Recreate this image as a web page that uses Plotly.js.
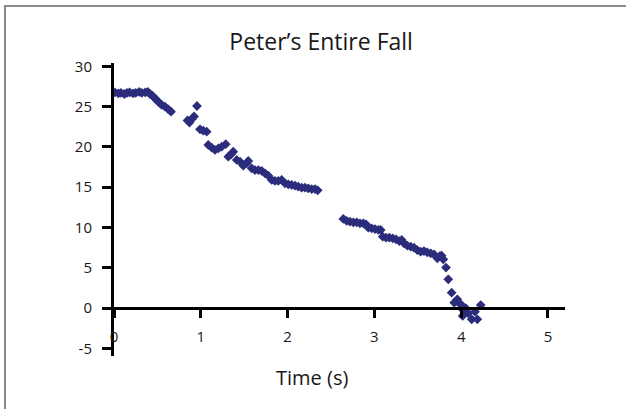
<!DOCTYPE html>
<html>
<head>
<meta charset="utf-8">
<script src="https://cdn.plot.ly/plotly-3.0.1.min.js"></script>
<style>
  html, body { margin: 0; padding: 0; background: #fff; }
  #wrap { position: relative; width: 626px; height: 409px; }
  #chart { width: 626px; height: 409px; }
  #frame { position: absolute; left: 4px; top: 5px; right: 0; bottom: 0;
           border-left: 2px solid #8a8a8a; border-top: 2px solid #8a8a8a;
           pointer-events: none; }
</style>
</head>
<body>
<div id="wrap">
  <div id="chart"></div>
  <div id="frame"></div>
</div>
<script>
// Time (s)
const time = [0.01,0.05,0.08,0.12,0.15,0.18,0.22,0.25,0.29,0.32,0.36,0.39,
  0.415,0.446,0.472,0.495,0.522,0.55,0.588,0.626,0.657,
  0.847,0.870,0.899,0.922,0.956,
  0.991,1.029,1.068,
  1.086,1.126,1.164,1.203,1.241,1.287,
  1.317,1.348,1.374,
  1.414,1.452,1.490,1.529,1.547,
  1.586,1.624,1.663,1.702,1.740,1.778,
  1.817,1.855,1.893,1.932,1.970,2.008,2.047,2.085,2.123,2.162,2.200,2.238,2.278,2.316,2.347,
  2.642,2.681,2.719,2.757,2.796,2.834,2.872,2.903,
  2.930,2.969,3.007,3.045,3.073,
  3.096,3.134,3.172,3.211,3.249,3.287,3.315,
  3.341,3.379,3.418,3.456,3.494,3.533,3.571,3.609,3.649,3.687,
  3.725,3.756,3.775,3.794,3.825,3.851,3.890,3.920,3.955,3.978,4.006,4.017,4.024,4.055,4.082,4.121,4.159,4.186,4.225];

// Height
const height = [26.77,26.65,26.71,26.58,26.71,26.77,26.65,26.71,26.83,26.71,26.77,26.83,
  26.58,26.34,26.05,25.78,25.50,25.22,25.01,24.68,24.38,
  23.29,23.04,23.48,23.79,25.09,
  22.20,22.02,21.90,
  20.25,19.91,19.63,19.84,20.04,20.34,
  18.80,19.09,19.42,
  18.39,18.17,17.68,17.98,18.26,
  17.35,17.14,17.14,17.02,16.73,16.43,
  15.90,15.78,15.78,15.90,15.49,15.37,15.28,15.19,15.07,14.94,14.94,14.87,14.78,14.78,14.62,
  11.06,10.81,10.72,10.65,10.65,10.52,10.52,10.40,
  9.98,9.90,9.81,9.69,9.69,
  8.86,8.73,8.73,8.66,8.53,8.32,8.45,
  8.04,7.74,7.61,7.49,7.20,6.99,7.08,6.92,6.80,6.67,
  6.17,6.46,6.50,6.05,5.03,3.56,1.90,0.66,1.08,0.58,0.37,-0.99,-0.25,-0.04,-0.66,-1.40,-0.46,-1.40,0.37];

const xTicks = [0, 1, 2, 3, 4, 5];
const yTicks = [-5, 0, 5, 10, 15, 20, 25, 30];
const titleText = "Peter\u2019s Entire Fall";
const xTitle = "Time (s)";

const yMin = -5.96, yMax = 30.43;
const xRange = [0, 5.196];

const FONT = "'Open Sans', 'Noto Sans', sans-serif";
const TXT = "#1a1718";

const trace = {
  x: time, y: height, type: "scatter", mode: "markers",
  marker: { symbol: "diamond", size: 7.5, color: "#2b2d7c", line: { width: 0 } },
  hoverinfo: "skip"
};

const layout = {
  width: 626, height: 409,
  margin: { l: 114, r: 61, t: 63, b: 53, pad: 0 },
  paper_bgcolor: "#ffffff", plot_bgcolor: "#ffffff",
  showlegend: false,
  font: { family: FONT, color: TXT },
  title: { text: titleText, font: { family: FONT, size: 23, color: TXT },
           x: 0.513, xanchor: "center", y: 0.898, yanchor: "middle" },
  xaxis: {
    range: xRange, anchor: "free",
    position: (0 - yMin) / (yMax - yMin),
    showline: true, linecolor: "#000", linewidth: 3,
    ticks: "outside", ticklen: 8, tickwidth: 3, tickcolor: "#000",
    tickvals: xTicks, ticktext: xTicks.map(String),
    tickfont: { family: FONT, size: 15, color: TXT },
    ticklabelstandoff: 6,
    showgrid: false, zeroline: false, automargin: false
  },
  yaxis: {
    range: [yMin, yMax],
    showline: true, linecolor: "#000", linewidth: 3,
    ticks: "outside", ticklen: 9, tickwidth: 3, tickcolor: "#000",
    tickvals: yTicks, ticktext: yTicks.map(String),
    tickfont: { family: FONT, size: 15, color: TXT },
    ticklabelstandoff: 7,
    showgrid: false, zeroline: false, automargin: false
  },
  annotations: [{
    text: xTitle, xref: "paper", yref: "paper",
    x: 0.439, y: -0.072, xanchor: "center", yanchor: "middle",
    showarrow: false, font: { family: FONT, size: 20, color: TXT }
  }]
};

Plotly.newPlot("chart", [trace], layout, { staticPlot: true, displayModeBar: false });
</script>
</body>
</html>
